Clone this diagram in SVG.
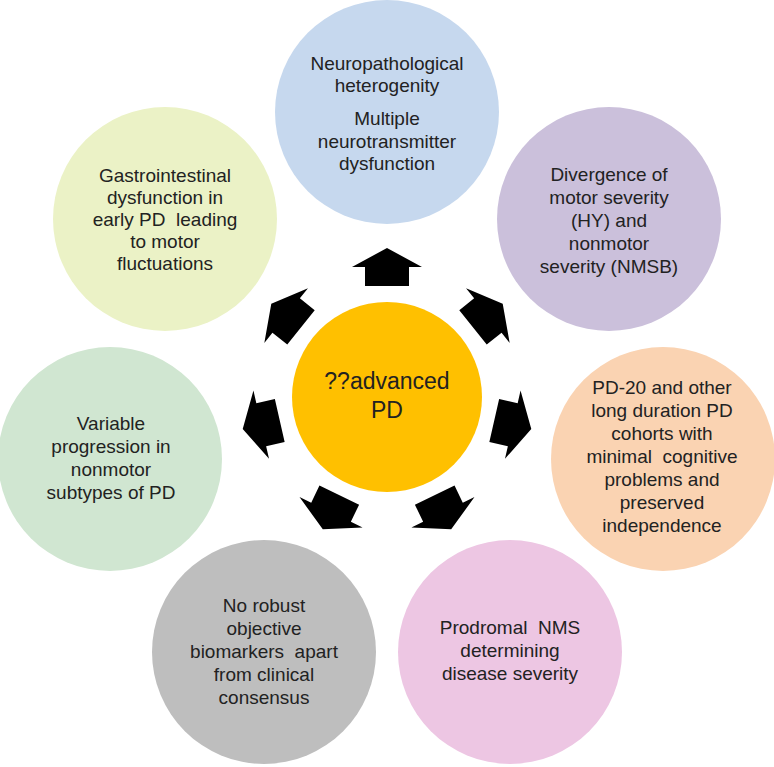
<svg xmlns="http://www.w3.org/2000/svg" width="774" height="767" viewBox="0 0 774 767">
<style>
.lbl{font-family:"Liberation Sans",Arial,sans-serif;font-size:19px;fill:#222;text-anchor:middle}
.ctr{font-family:"Liberation Sans",Arial,sans-serif;font-size:23px;fill:#222;text-anchor:middle}
.arr{fill:#000}
</style>
<defs>
<path id="arrow" d="M -22 -110 L -22 -129 L -35 -129 L 0 -148 L 35 -129 L 22 -129 L 22 -110 Z"/>
</defs>
<rect width="774" height="767" fill="#fff"/>
<g id="n-top">
<circle cx="387" cy="112" r="112" fill="#C6D8EE"/>
<text class="lbl" xml:space="preserve"><tspan x="387" y="70">Neuropathological</tspan><tspan x="387" y="92">heterogenity</tspan><tspan x="387" y="125">Multiple</tspan><tspan x="387" y="148">neurotransmitter</tspan><tspan x="387" y="170">dysfunction</tspan></text>
</g>
<g id="n-purple">
<circle cx="609" cy="219" r="112" fill="#CBC0DB"/>
<text class="lbl" xml:space="preserve"><tspan x="609" y="181">Divergence of</tspan><tspan x="609" y="204">motor severity</tspan><tspan x="609" y="227">(HY) and</tspan><tspan x="609" y="250">nonmotor</tspan><tspan x="609" y="273">severity (NMSB)</tspan></text>
</g>
<g id="n-peach">
<circle cx="663" cy="459" r="112" fill="#FAD3B2"/>
<text class="lbl" xml:space="preserve"><tspan x="662" y="394">PD-20 and other</tspan><tspan x="662" y="417">long duration PD</tspan><tspan x="662" y="440">cohorts with</tspan><tspan x="662" y="463">minimal  cognitive</tspan><tspan x="662" y="486">problems and</tspan><tspan x="662" y="509">preserved</tspan><tspan x="662" y="532">independence</tspan></text>
</g>
<g id="n-pink">
<circle cx="510" cy="652" r="112" fill="#EDC6E3"/>
<text class="lbl" xml:space="preserve"><tspan x="510" y="634">Prodromal  NMS</tspan><tspan x="510" y="657">determining</tspan><tspan x="510" y="680">disease severity</tspan></text>
</g>
<g id="n-gray">
<circle cx="264" cy="652" r="112" fill="#BEBEBE"/>
<text class="lbl" xml:space="preserve"><tspan x="264" y="612">No robust</tspan><tspan x="264" y="635">objective</tspan><tspan x="264" y="658">biomarkers  apart</tspan><tspan x="264" y="681">from clinical</tspan><tspan x="264" y="704">consensus</tspan></text>
</g>
<g id="n-green">
<circle cx="110" cy="459" r="112" fill="#D0E6D1"/>
<text class="lbl" xml:space="preserve"><tspan x="111" y="430">Variable</tspan><tspan x="111" y="453">progression in</tspan><tspan x="111" y="476">nonmotor</tspan><tspan x="111" y="499">subtypes of PD</tspan></text>
</g>
<g id="n-yellow">
<circle cx="165" cy="219" r="112" fill="#EBF2C6"/>
<text class="lbl" xml:space="preserve"><tspan x="165" y="182">Gastrointestinal</tspan><tspan x="165" y="204">dysfunction in</tspan><tspan x="165" y="226">early PD  leading</tspan><tspan x="165" y="248">to motor</tspan><tspan x="165" y="270">fluctuations</tspan></text>
</g>
<g id="n-center">
<circle cx="387" cy="397" r="95" fill="#FFC000"/>
<text class="ctr"><tspan x="387" y="389">??advanced</tspan><tspan x="387" y="418">PD</tspan></text>
</g>
<g id="connectors" class="arr">
<use href="#arrow" transform="translate(387 396) rotate(0)"/>
<use href="#arrow" transform="translate(387 396) rotate(51.43)"/>
<use href="#arrow" transform="translate(387 396) rotate(102.86)"/>
<use href="#arrow" transform="translate(387 396) rotate(154.29)"/>
<use href="#arrow" transform="translate(387 396) rotate(205.71)"/>
<use href="#arrow" transform="translate(387 396) rotate(257.14)"/>
<use href="#arrow" transform="translate(387 396) rotate(308.57)"/>
</g>
</svg>
